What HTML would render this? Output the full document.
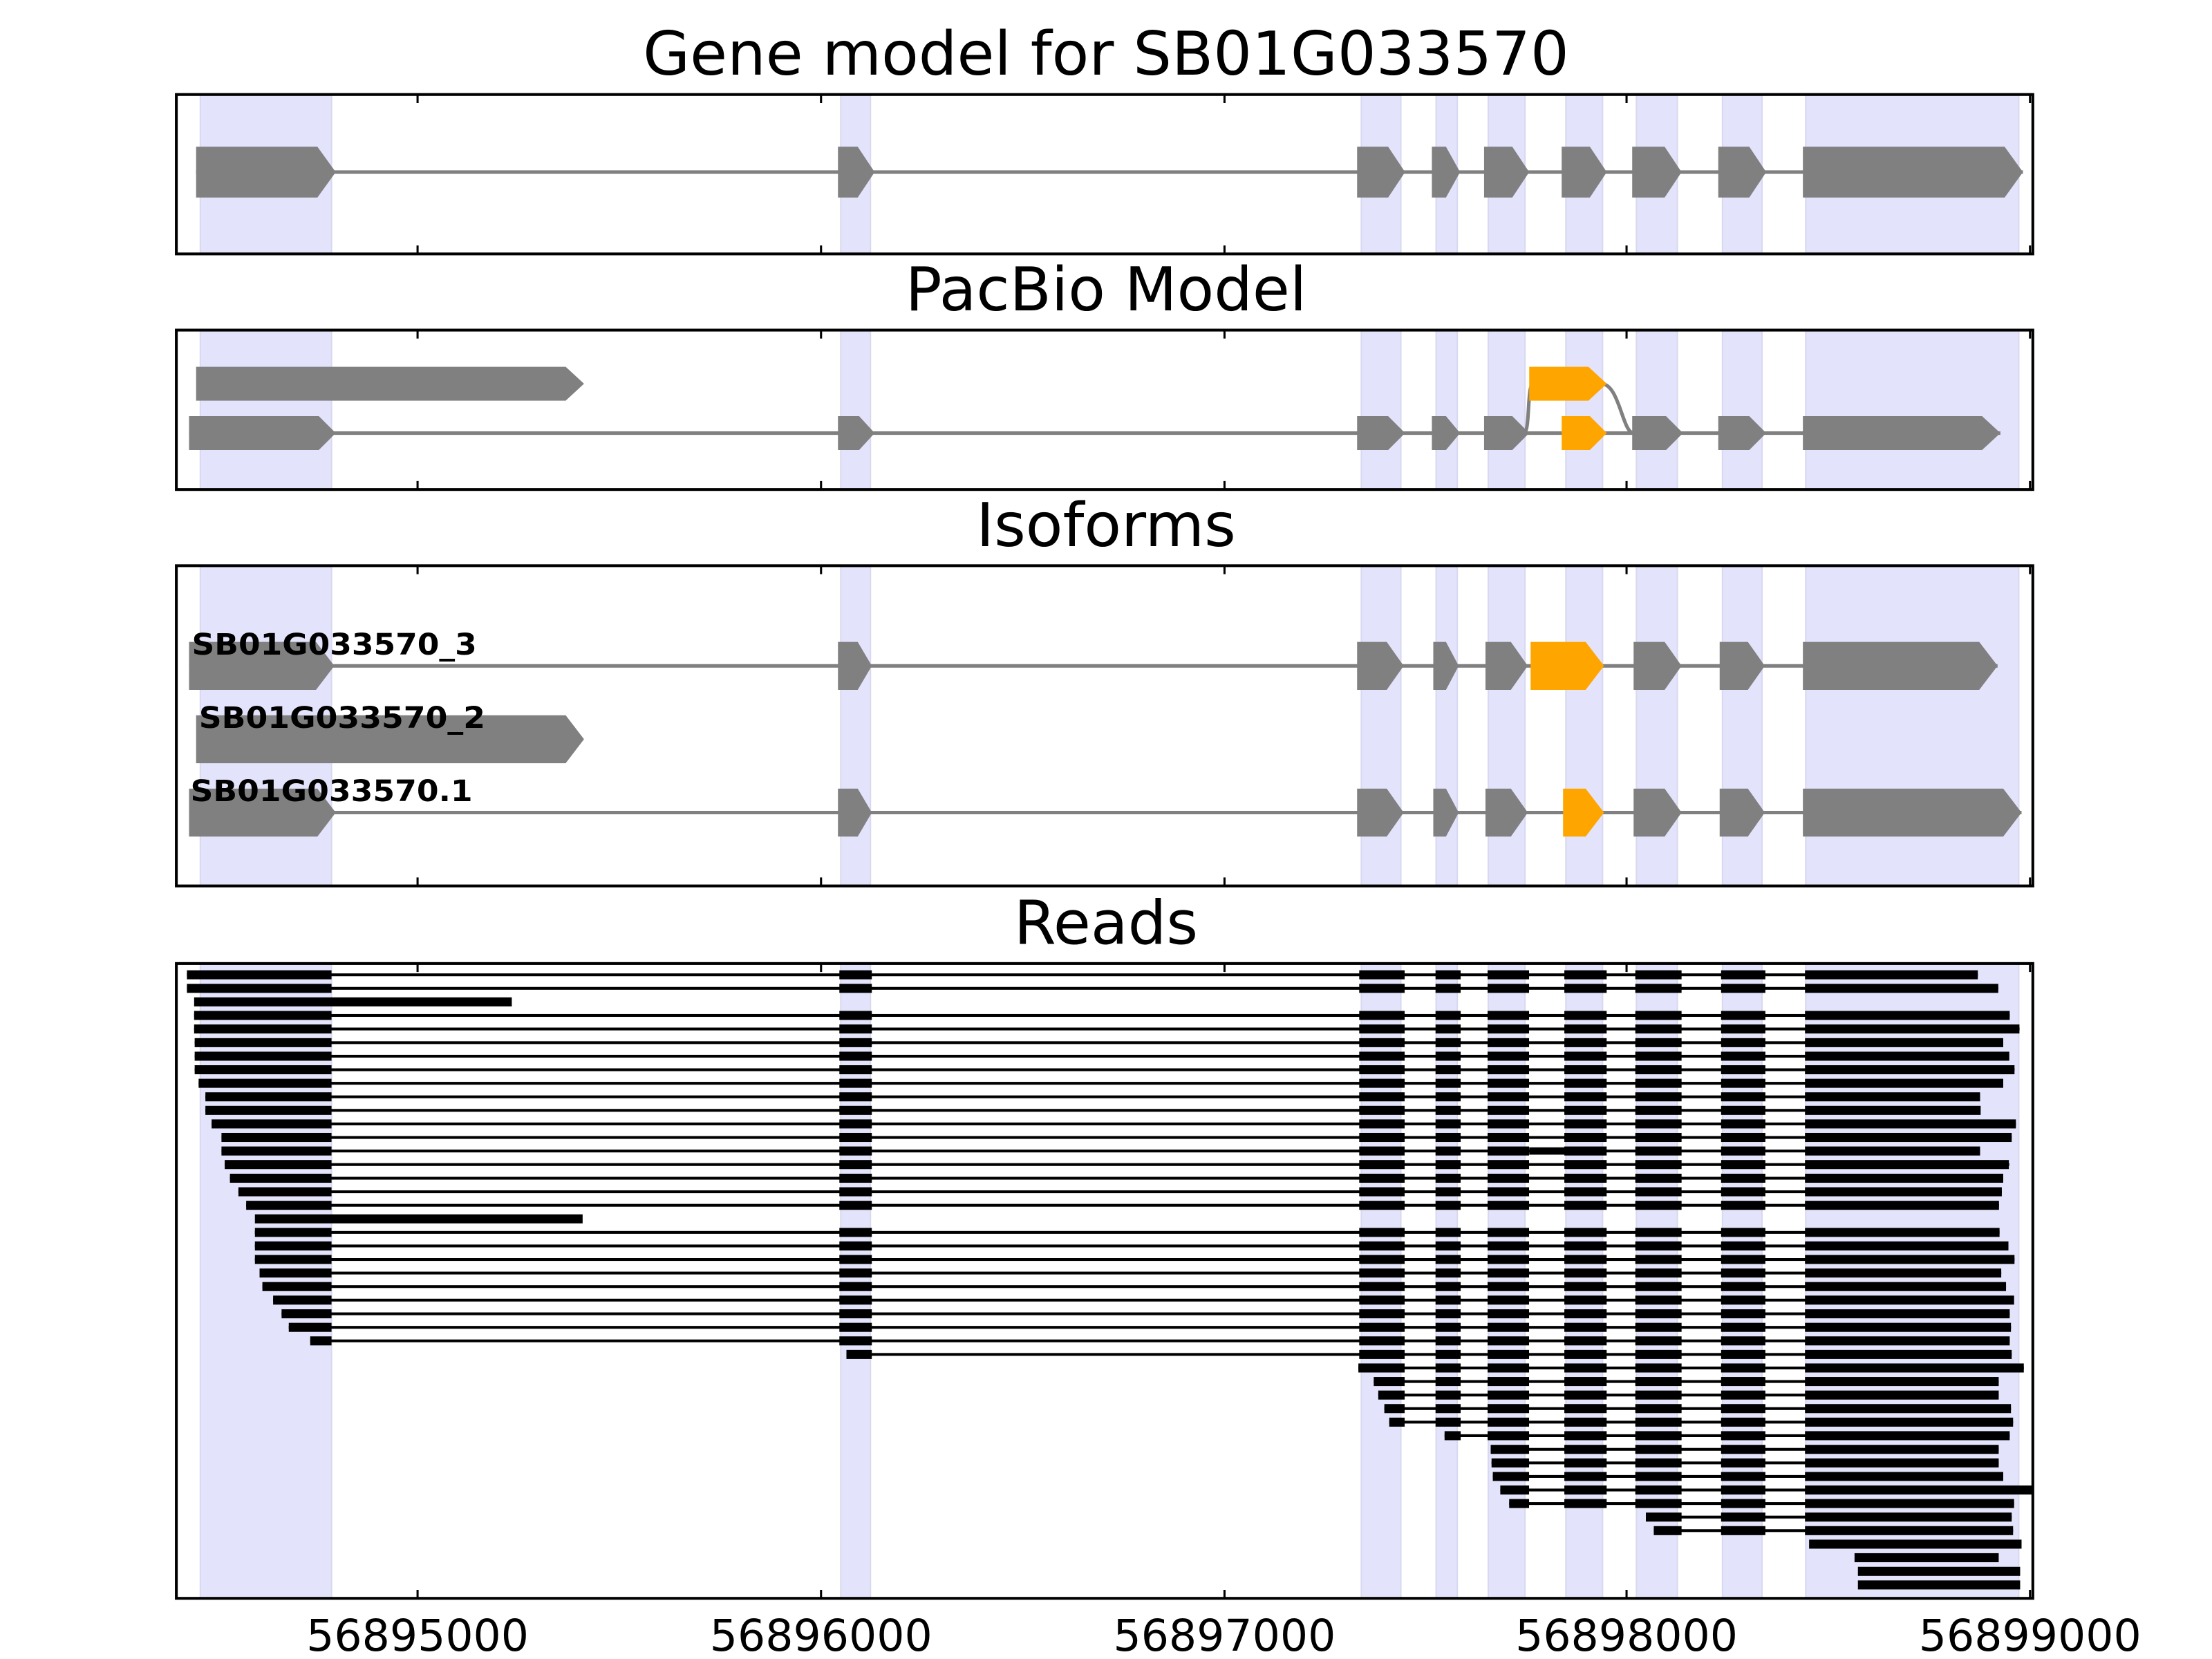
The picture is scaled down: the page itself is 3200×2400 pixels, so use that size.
<!DOCTYPE html>
<html><head><meta charset="utf-8"><style>html,body{margin:0;padding:0;background:#fff}svg{display:block}</style></head>
<body>
<svg width="3200" height="2400" viewBox="0 0 1568 1176" xmlns="http://www.w3.org/2000/svg" font-family="'DejaVu Sans','Liberation Sans',sans-serif">
<defs>
<g id="m6"><rect x="1220" y="-3.2" width="31.4" height="6.4"/></g>
<g id="m5"><rect x="1108.9" y="-3.2" width="30" height="6.4"/><rect x="1159.2" y="-3.2" width="32.8" height="6.4"/><use href="#m6"/></g>
<g id="m4"><rect x="1054.5" y="-3.2" width="29.4" height="6.4"/><use href="#m5"/></g>
<g id="m3"><rect x="1017.6" y="-3.2" width="17.8" height="6.4"/><use href="#m4"/></g>
<g id="m2"><rect x="963.5" y="-3.2" width="32.2" height="6.4"/><use href="#m3"/></g>
<g id="m1"><rect x="595" y="-3.2" width="23" height="6.4"/><use href="#m2"/></g>
</defs>
<rect width="1568" height="1176" fill="#fff"/>
<!-- bands -->
<g fill="#e3e3fc" stroke="#d8d8f0" stroke-width="1">
<rect x="142" y="67" width="93" height="113"/><rect x="596" y="67" width="21" height="113"/><rect x="965" y="67" width="28" height="113"/><rect x="1018" y="67" width="15" height="113"/><rect x="1055" y="67" width="26" height="113"/><rect x="1110" y="67" width="26" height="113"/><rect x="1160" y="67" width="29" height="113"/><rect x="1221" y="67" width="28" height="113"/><rect x="1280" y="67" width="151" height="113"/>
<rect x="142" y="234" width="93" height="113"/><rect x="596" y="234" width="21" height="113"/><rect x="965" y="234" width="28" height="113"/><rect x="1018" y="234" width="15" height="113"/><rect x="1055" y="234" width="26" height="113"/><rect x="1110" y="234" width="26" height="113"/><rect x="1160" y="234" width="29" height="113"/><rect x="1221" y="234" width="28" height="113"/><rect x="1280" y="234" width="151" height="113"/>
<rect x="142" y="401" width="93" height="227"/><rect x="596" y="401" width="21" height="227"/><rect x="965" y="401" width="28" height="227"/><rect x="1018" y="401" width="15" height="227"/><rect x="1055" y="401" width="26" height="227"/><rect x="1110" y="401" width="26" height="227"/><rect x="1160" y="401" width="29" height="227"/><rect x="1221" y="401" width="28" height="227"/><rect x="1280" y="401" width="151" height="227"/>
<rect x="142" y="683" width="93" height="450"/><rect x="596" y="683" width="21" height="450"/><rect x="965" y="683" width="28" height="450"/><rect x="1018" y="683" width="15" height="450"/><rect x="1055" y="683" width="26" height="450"/><rect x="1110" y="683" width="26" height="450"/><rect x="1160" y="683" width="29" height="450"/><rect x="1221" y="683" width="28" height="450"/><rect x="1280" y="683" width="151" height="450"/>
</g>

<!-- titles -->
<g font-size="43" text-anchor="middle" fill="#000">
<text x="784" y="53">Gene model for SB01G033570</text>
<text x="784" y="220">PacBio Model</text>
<text x="784" y="387">Isoforms</text>
<text x="784" y="669">Reads</text>
</g>

<!-- gene model -->
<g fill="#808080">
<line x1="139" y1="122" x2="1434" y2="122" stroke="#808080" stroke-width="2.5"/>
<polygon points="139,104 225,104 238,122 225,140 139,140"/>
<polygon points="594,104 608,104 620,122 608,140 594,140"/>
<polygon points="962,104 984,104 996,122 984,140 962,140"/>
<polygon points="1015,104 1025,104 1035,122 1025,140 1015,140"/>
<polygon points="1052,104 1072,104 1084,122 1072,140 1052,140"/>
<polygon points="1107,104 1127,104 1139,122 1127,140 1107,140"/>
<polygon points="1157,104 1180,104 1192,122 1180,140 1157,140"/>
<polygon points="1218,104 1240,104 1252,122 1240,140 1218,140"/>
<polygon points="1278,104 1421,104 1434,122 1421,140 1278,140"/>
</g>

<!-- pacbio -->
<g fill="#808080">
<line x1="134" y1="307" x2="1418" y2="307" stroke="#808080" stroke-width="2.5"/>
<path d="M1080,307 C1085,307 1082,272 1087,272 M1135,272 C1148,272 1150,307 1158,307" fill="none" stroke="#808080" stroke-width="2.5"/>
<polygon points="139,260 401,260 414,272 401,284 139,284"/>
<polygon points="134,295 226,295 238,307 226,319 134,319"/>
<polygon points="594,295 609,295 620,307 609,319 594,319"/>
<polygon points="962,295 984,295 996,307 984,319 962,319"/>
<polygon points="1015,295 1025,295 1035,307 1025,319 1015,319"/>
<polygon points="1052,295 1072,295 1084,307 1072,319 1052,319"/>
<polygon points="1157,295 1181,295 1193,307 1181,319 1157,319"/>
<polygon points="1218,295 1240,295 1252,307 1240,319 1218,319"/>
<polygon points="1278,295 1405,295 1418,307 1405,319 1278,319"/>
<polygon fill="#ffa500" points="1084,260 1126,260 1139,272 1126,284 1084,284"/>
<polygon fill="#ffa500" points="1107,295 1127,295 1139,307 1127,319 1107,319"/>
</g>

<!-- isoforms -->
<g fill="#808080">
<line x1="134" y1="472" x2="1416" y2="472" stroke="#808080" stroke-width="2.5"/>
<line x1="134" y1="576" x2="1433" y2="576" stroke="#808080" stroke-width="2.5"/>
<polygon points="134,455 224,455 237,472 224,489 134,489"/>
<polygon points="594,455 608,455 618,472 608,489 594,489"/>
<polygon points="962,455 983,455 995,472 983,489 962,489"/>
<polygon points="1016,455 1025,455 1034,472 1025,489 1016,489"/>
<polygon points="1053,455 1071,455 1083,472 1071,489 1053,489"/>
<polygon fill="#ffa500" points="1085,455 1124,455 1137,472 1124,489 1085,489"/>
<polygon points="1158,455 1180,455 1192,472 1180,489 1158,489"/>
<polygon points="1219,455 1239,455 1251,472 1239,489 1219,489"/>
<polygon points="1278,455 1403,455 1416,472 1403,489 1278,489"/>
<polygon points="139,507 401,507 414,524 401,541 139,541"/>
<polygon points="134,559 225,559 238,576 225,593 134,593"/>
<polygon points="594,559 608,559 618,576 608,593 594,593"/>
<polygon points="962,559 983,559 995,576 983,593 962,593"/>
<polygon points="1016,559 1025,559 1034,576 1025,593 1016,593"/>
<polygon points="1053,559 1071,559 1083,576 1071,593 1053,593"/>
<polygon fill="#ffa500" points="1108,559 1124,559 1137,576 1124,593 1108,593"/>
<polygon points="1158,559 1180,559 1192,576 1180,593 1158,593"/>
<polygon points="1219,559 1239,559 1251,576 1239,593 1219,593"/>
<polygon points="1278,559 1420,559 1433,576 1420,593 1278,593"/>
</g>
<g font-size="21" font-weight="bold" fill="#000">
<text x="136" y="464" textLength="202" lengthAdjust="spacingAndGlyphs">SB01G033570_3</text>
<text x="141" y="516" textLength="203" lengthAdjust="spacingAndGlyphs">SB01G033570_2</text>
<text x="135" y="568" textLength="200" lengthAdjust="spacingAndGlyphs">SB01G033570.1</text>
</g>

<!-- reads -->
<g fill="#000" stroke="none">
<g transform="translate(0,691)"><rect x="132.5" y="-1" width="1269.5" height="2"/><rect x="132.5" y="-3.2" width="102.5" height="6.4"/><use href="#m1"/><rect x="1279.5" y="-3.2" width="122.5" height="6.4"/></g>
<g transform="translate(0,700.6)"><rect x="132.5" y="-1" width="1284" height="2"/><rect x="132.5" y="-3.2" width="102.5" height="6.4"/><use href="#m1"/><rect x="1279.5" y="-3.2" width="137" height="6.4"/></g>
<g transform="translate(0,710.2)"><rect x="137.6" y="-3.2" width="225.2" height="6.4"/></g>
<g transform="translate(0,719.8)"><rect x="137.6" y="-1" width="1287" height="2"/><rect x="137.6" y="-3.2" width="97.4" height="6.4"/><use href="#m1"/><rect x="1279.5" y="-3.2" width="145.1" height="6.4"/></g>
<g transform="translate(0,729.4)"><rect x="137.6" y="-1" width="1294" height="2"/><rect x="137.6" y="-3.2" width="97.4" height="6.4"/><use href="#m1"/><rect x="1279.5" y="-3.2" width="152" height="6.4"/></g>
<g transform="translate(0,739.1)"><rect x="138" y="-1" width="1282" height="2"/><rect x="138" y="-3.2" width="97" height="6.4"/><use href="#m1"/><rect x="1279.5" y="-3.2" width="140.5" height="6.4"/></g>
<g transform="translate(0,748.7)"><rect x="138" y="-1" width="1286" height="2"/><rect x="138" y="-3.2" width="97" height="6.4"/><use href="#m1"/><rect x="1279.5" y="-3.2" width="144.8" height="6.4"/></g>
<g transform="translate(0,758.3)"><rect x="138" y="-1" width="1290" height="2"/><rect x="138" y="-3.2" width="97" height="6.4"/><use href="#m1"/><rect x="1279.5" y="-3.2" width="148.5" height="6.4"/></g>
<g transform="translate(0,767.9)"><rect x="140.8" y="-1" width="1279" height="2"/><rect x="140.8" y="-3.2" width="94.2" height="6.4"/><use href="#m1"/><rect x="1279.5" y="-3.2" width="140.5" height="6.4"/></g>
<g transform="translate(0,777.5)"><rect x="145.6" y="-1" width="1258" height="2"/><rect x="145.6" y="-3.2" width="89.4" height="6.4"/><use href="#m1"/><rect x="1279.5" y="-3.2" width="124.1" height="6.4"/></g>
<g transform="translate(0,787.1)"><rect x="145.6" y="-1" width="1258" height="2"/><rect x="145.6" y="-3.2" width="89.4" height="6.4"/><use href="#m1"/><rect x="1279.5" y="-3.2" width="124.5" height="6.4"/></g>
<g transform="translate(0,796.7)"><rect x="150" y="-1" width="1279" height="2"/><rect x="150" y="-3.2" width="85" height="6.4"/><use href="#m1"/><rect x="1279.5" y="-3.2" width="149.5" height="6.4"/></g>
<g transform="translate(0,806.3)"><rect x="157" y="-1" width="1269" height="2"/><rect x="157" y="-3.2" width="78" height="6.4"/><use href="#m1"/><rect x="1279.5" y="-3.2" width="146.5" height="6.4"/></g>
<g transform="translate(0,815.9)"><rect x="157" y="-1" width="1246.6" height="2"/><rect x="157" y="-3.2" width="78" height="6.4"/><use href="#m1"/><rect x="1084" y="-2.6" width="26" height="5.2"/><rect x="1279.5" y="-3.2" width="124.1" height="6.4"/></g>
<g transform="translate(0,825.5)"><rect x="159.3" y="-1" width="1265" height="2"/><rect x="159.3" y="-3.2" width="75.7" height="6.4"/><use href="#m1"/><rect x="1279.5" y="-3.2" width="144.5" height="6.4"/></g>
<g transform="translate(0,835.2)"><rect x="163" y="-1" width="1257" height="2"/><rect x="163" y="-3.2" width="72" height="6.4"/><use href="#m1"/><rect x="1279.5" y="-3.2" width="140.5" height="6.4"/></g>
<g transform="translate(0,844.8)"><rect x="169" y="-1" width="1250" height="2"/><rect x="169" y="-3.2" width="66" height="6.4"/><use href="#m1"/><rect x="1279.5" y="-3.2" width="139.5" height="6.4"/></g>
<g transform="translate(0,854.4)"><rect x="174.5" y="-1" width="1242.5" height="2"/><rect x="174.5" y="-3.2" width="60.5" height="6.4"/><use href="#m1"/><rect x="1279.5" y="-3.2" width="137.5" height="6.4"/></g>
<g transform="translate(0,864)"><rect x="180.7" y="-3.2" width="232.3" height="6.4"/></g>
<g transform="translate(0,873.6)"><rect x="180.7" y="-1" width="1236.7" height="2"/><rect x="180.7" y="-3.2" width="54.3" height="6.4"/><use href="#m1"/><rect x="1279.5" y="-3.2" width="137.9" height="6.4"/></g>
<g transform="translate(0,883.2)"><rect x="180.7" y="-1" width="1243" height="2"/><rect x="180.7" y="-3.2" width="54.3" height="6.4"/><use href="#m1"/><rect x="1279.5" y="-3.2" width="144.2" height="6.4"/></g>
<g transform="translate(0,892.8)"><rect x="180.7" y="-1" width="1247.3" height="2"/><rect x="180.7" y="-3.2" width="54.3" height="6.4"/><use href="#m1"/><rect x="1279.5" y="-3.2" width="148.5" height="6.4"/></g>
<g transform="translate(0,902.4)"><rect x="184" y="-1" width="1234.6" height="2"/><rect x="184" y="-3.2" width="51" height="6.4"/><use href="#m1"/><rect x="1279.5" y="-3.2" width="139.1" height="6.4"/></g>
<g transform="translate(0,912)"><rect x="186" y="-1" width="1236" height="2"/><rect x="186" y="-3.2" width="49" height="6.4"/><use href="#m1"/><rect x="1279.5" y="-3.2" width="142.5" height="6.4"/></g>
<g transform="translate(0,921.6)"><rect x="193.6" y="-1" width="1234" height="2"/><rect x="193.6" y="-3.2" width="41.4" height="6.4"/><use href="#m1"/><rect x="1279.5" y="-3.2" width="148.2" height="6.4"/></g>
<g transform="translate(0,931.3)"><rect x="199.6" y="-1" width="1225" height="2"/><rect x="199.6" y="-3.2" width="35.4" height="6.4"/><use href="#m1"/><rect x="1279.5" y="-3.2" width="145.1" height="6.4"/></g>
<g transform="translate(0,940.9)"><rect x="204.7" y="-1" width="1220.8" height="2"/><rect x="204.7" y="-3.2" width="30.3" height="6.4"/><use href="#m1"/><rect x="1279.5" y="-3.2" width="146" height="6.4"/></g>
<g transform="translate(0,950.5)"><rect x="219.9" y="-1" width="1204.7" height="2"/><rect x="219.9" y="-3.2" width="15.1" height="6.4"/><use href="#m1"/><rect x="1279.5" y="-3.2" width="145.1" height="6.4"/></g>
<g transform="translate(0,960.1)"><rect x="600" y="-1" width="826" height="2"/><rect x="600" y="-3.2" width="18" height="6.4"/><use href="#m2"/><rect x="1279.5" y="-3.2" width="146.5" height="6.4"/></g>
<g transform="translate(0,969.7)"><rect x="962.9" y="-1" width="471.7" height="2"/><rect x="962.9" y="-3.2" width="32.8" height="6.4"/><use href="#m3"/><rect x="1279.5" y="-3.2" width="155.1" height="6.4"/></g>
<g transform="translate(0,979.3)"><rect x="973.8" y="-1" width="443" height="2"/><rect x="973.8" y="-3.2" width="21.9" height="6.4"/><use href="#m3"/><rect x="1279.5" y="-3.2" width="137.3" height="6.4"/></g>
<g transform="translate(0,988.9)"><rect x="977" y="-1" width="439.8" height="2"/><rect x="977" y="-3.2" width="18.7" height="6.4"/><use href="#m3"/><rect x="1279.5" y="-3.2" width="137.3" height="6.4"/></g>
<g transform="translate(0,998.5)"><rect x="981.3" y="-1" width="444.2" height="2"/><rect x="981.3" y="-3.2" width="14.4" height="6.4"/><use href="#m3"/><rect x="1279.5" y="-3.2" width="146" height="6.4"/></g>
<g transform="translate(0,1008.1)"><rect x="984.8" y="-1" width="442.2" height="2"/><rect x="984.8" y="-3.2" width="10.9" height="6.4"/><use href="#m3"/><rect x="1279.5" y="-3.2" width="147.5" height="6.4"/></g>
<g transform="translate(0,1017.7)"><rect x="1024" y="-1" width="400.6" height="2"/><rect x="1024" y="-3.2" width="11.4" height="6.4"/><use href="#m4"/><rect x="1279.5" y="-3.2" width="145.1" height="6.4"/></g>
<g transform="translate(0,1027.4)"><rect x="1056.7" y="-1" width="360.1" height="2"/><rect x="1056.7" y="-3.2" width="27.2" height="6.4"/><use href="#m5"/><rect x="1279.5" y="-3.2" width="137.3" height="6.4"/></g>
<g transform="translate(0,1037)"><rect x="1057.3" y="-1" width="359.5" height="2"/><rect x="1057.3" y="-3.2" width="26.6" height="6.4"/><use href="#m5"/><rect x="1279.5" y="-3.2" width="137.3" height="6.4"/></g>
<g transform="translate(0,1046.6)"><rect x="1058.2" y="-1" width="361.8" height="2"/><rect x="1058.2" y="-3.2" width="25.7" height="6.4"/><use href="#m5"/><rect x="1279.5" y="-3.2" width="140.5" height="6.4"/></g>
<g transform="translate(0,1056.2)"><rect x="1063.5" y="-1" width="377.5" height="2"/><rect x="1063.5" y="-3.2" width="20.4" height="6.4"/><use href="#m5"/><rect x="1279.5" y="-3.2" width="161.5" height="6.4"/></g>
<g transform="translate(0,1065.8)"><rect x="1069.8" y="-1" width="357.9" height="2"/><rect x="1069.8" y="-3.2" width="14.1" height="6.4"/><use href="#m5"/><rect x="1279.5" y="-3.2" width="148.2" height="6.4"/></g>
<g transform="translate(0,1075.4)"><rect x="1166.7" y="-1" width="259.3" height="2"/><rect x="1166.7" y="-3.2" width="25.3" height="6.4"/><use href="#m6"/><rect x="1279.5" y="-3.2" width="146.5" height="6.4"/></g>
<g transform="translate(0,1085)"><rect x="1172.3" y="-1" width="254.7" height="2"/><rect x="1172.3" y="-3.2" width="19.7" height="6.4"/><use href="#m6"/><rect x="1279.5" y="-3.2" width="147.5" height="6.4"/></g>
<g transform="translate(0,1094.6)"><rect x="1282.4" y="-3.2" width="150.6" height="6.4"/></g>
<g transform="translate(0,1104.2)"><rect x="1314.6" y="-3.2" width="102.2" height="6.4"/></g>
<g transform="translate(0,1113.9)"><rect x="1317" y="-3.2" width="115" height="6.4"/></g>
<g transform="translate(0,1123.5)"><rect x="1317" y="-3.2" width="115" height="6.4"/></g>
</g>

<!-- axes frames -->
<g fill="none" stroke="#000" stroke-width="2">
<rect x="125" y="67" width="1316" height="113"/>
<rect x="125" y="234" width="1316" height="113"/>
<rect x="125" y="401" width="1316" height="227"/>
<rect x="125" y="683" width="1316" height="450"/>
</g>
<!-- ticks -->
<g stroke="#000" stroke-width="1.5">
<path d="M296,180v-6M582,180v-6M868,180v-6M1153,180v-6M1439,180v-6 M296,67v6M582,67v6M868,67v6M1153,67v6M1439,67v6"/>
<path d="M296,347v-6M582,347v-6M868,347v-6M1153,347v-6M1439,347v-6 M296,234v6M582,234v6M868,234v6M1153,234v6M1439,234v6"/>
<path d="M296,628v-6M582,628v-6M868,628v-6M1153,628v-6M1439,628v-6 M296,401v6M582,401v6M868,401v6M1153,401v6M1439,401v6"/>
<path d="M296,1133v-6M582,1133v-6M868,1133v-6M1153,1133v-6M1439,1133v-6 M296,683v6M582,683v6M868,683v6M1153,683v6M1439,683v6"/>
</g>
<g font-size="31" text-anchor="middle" fill="#000">
<text x="296" y="1170">56895000</text>
<text x="582" y="1170">56896000</text>
<text x="868" y="1170">56897000</text>
<text x="1153" y="1170">56898000</text>
<text x="1439" y="1170">56899000</text>
</g>
</svg>
</body></html>
